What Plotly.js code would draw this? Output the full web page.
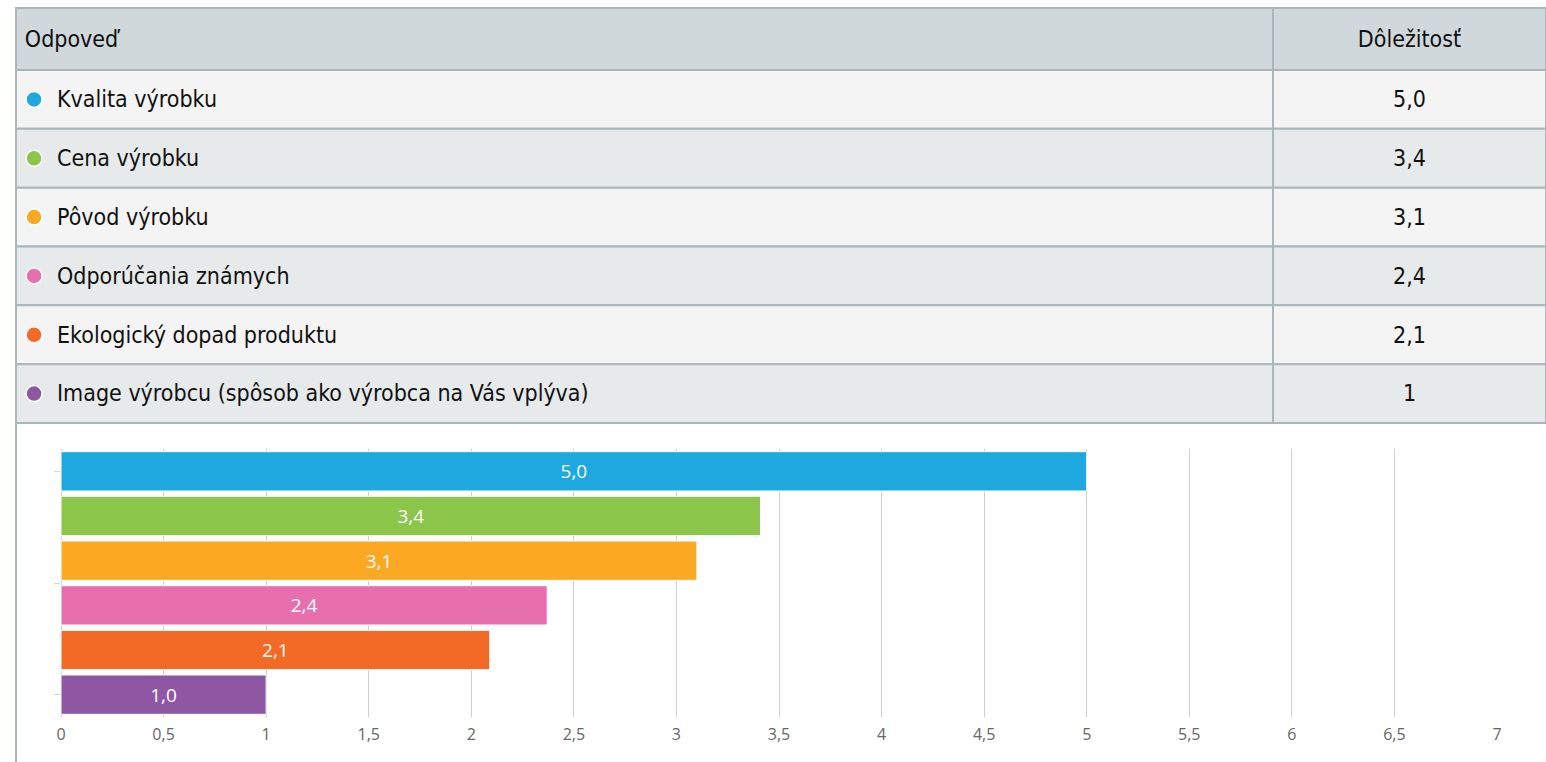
<!DOCTYPE html>
<html>
<head>
<meta charset="utf-8">
<script src="https://cdn.plot.ly/plotly-3.0.1.min.js"></script>
<style>html,body{margin:0;padding:0;background:#fff;}#chart{width:1546px;height:762px;}</style>
</head>
<body>
<div id="chart"></div>
<script>
const categories = ["Kvalita výrobku", "Cena výrobku", "Pôvod výrobku", "Odporúčania známych", "Ekologický dopad produktu", "Image výrobcu (spôsob ako výrobca na Vás vplýva)"];
const values = [5.0, 3.41, 3.1, 2.37, 2.09, 1.0];
const barLabels = ["5,0", "3,4", "3,1", "2,4", "2,1", "1,0"];
const tableValues = ["5,0", "3,4", "3,1", "2,4", "2,1", "1"];
const colors = ["#1fa8e0", "#8bc54a", "#fba823", "#e76fad", "#f26a25", "#8f57a3"];
const headers = ["Odpoveď", "Dôležitosť"];

const W = 1546, H = 762;
const px = x => x / W;
const py = y => 1 - y / H;

/* ---- table drawn on its own axes (x2 / y2) ---- */
const ROW_PX = 58.8, HDR = 62 / ROW_PX, PAD = 1 / ROW_PX;
const COL1 = 1257 / 1530;             // share of first column
const TXT_SHIFT = 2 / ROW_PX;         // small downward nudge of text
const n = categories.length;
const rowIdx = categories.map((_, i) => i + 0.5);
const textIdx = rowIdx.map(v => v + TXT_SHIFT);
const rowFills = categories.map((_, i) => i % 2 === 0 ? "#f4f4f4" : "#e7eaeb");
const tableFont = "DejaVu Sans Condensed, Liberation Sans Narrow, sans-serif";
const BORDER = {color: "#a9b6bb", width: 2};

const tableCol1 = {
  type: "bar", orientation: "h", xaxis: "x2", yaxis: "y2",
  y: [-HDR / 2].concat(rowIdx),
  x: [COL1].concat(categories.map(() => COL1)),
  base: 0,
  width: [HDR].concat(categories.map(() => 1)),
  marker: {color: ["#d0d8db"].concat(rowFills), line: BORDER},
  hoverinfo: "skip", textposition: "none"
};
const tableCol2 = {
  type: "bar", orientation: "h", xaxis: "x2", yaxis: "y2",
  y: [-HDR / 2].concat(rowIdx),
  x: [1 - COL1].concat(categories.map(() => 1 - COL1)),
  base: COL1,
  width: [HDR].concat(categories.map(() => 1)),
  marker: {color: ["#d0d8db"].concat(rowFills), line: BORDER},
  hoverinfo: "skip", textposition: "none"
};
const headerText = {
  type: "scatter", mode: "text", xaxis: "x2", yaxis: "y2",
  x: [0.0058, COL1 + (1 - COL1) / 2], y: [-HDR / 2 + TXT_SHIFT, -HDR / 2 + TXT_SHIFT],
  text: headers, textposition: ["middle right", "middle center"],
  textfont: {family: tableFont, size: 23, color: "#111111"},
  cliponaxis: false, hoverinfo: "skip"
};
const dots = {
  type: "scatter", mode: "markers", xaxis: "x2", yaxis: "y2",
  x: categories.map(() => 0.0118), y: rowIdx,
  marker: {size: 16, color: colors, line: {color: "#ffffff", width: 1.5}},
  cliponaxis: false, hoverinfo: "skip"
};
const nameText = {
  type: "scatter", mode: "text", xaxis: "x2", yaxis: "y2",
  x: categories.map(() => 0.0268), y: textIdx,
  text: categories, textposition: "middle right",
  textfont: {family: tableFont, size: 23, color: "#111111"},
  cliponaxis: false, hoverinfo: "skip"
};
const valueText = {
  type: "scatter", mode: "text", xaxis: "x2", yaxis: "y2",
  x: categories.map(() => COL1 + (1 - COL1) / 2), y: textIdx,
  text: tableValues, textposition: "middle center",
  textfont: {family: tableFont, size: 23, color: "#111111"},
  cliponaxis: false, hoverinfo: "skip"
};

/* ---- bar chart ---- */
const bars = {
  type: "bar",
  orientation: "h",
  y: categories,
  x: values,
  text: barLabels,
  textposition: "inside",
  insidetextanchor: "middle",
  textfont: {family: "Open Sans, DejaVu Sans, sans-serif", size: 19, color: "#ffffff"},
  marker: {color: colors, line: {color: "#ffffff", width: 1}},
  hoverinfo: "skip",
  xaxis: "x",
  yaxis: "y"
};

const layout = {
  width: W, height: H,
  margin: {l: 0, r: 0, t: 0, b: 0},
  paper_bgcolor: "#ffffff",
  plot_bgcolor: "rgba(0,0,0,0)",
  separators: ", ",
  showlegend: false,
  barmode: "overlay",
  bargap: 0.12,
  xaxis: {
    domain: [px(61), px(1497)],
    range: [0, 7],
    dtick: 0.5,
    tick0: 0,
    showgrid: true,
    gridcolor: "#cfcfcf",
    gridwidth: 1,
    zeroline: true,
    zerolinecolor: "#ccd6eb",
    zerolinewidth: 1,
    showline: false,
    ticks: "",
    ticklabelstandoff: 6,
    tickfont: {family: "Open Sans, DejaVu Sans, sans-serif", size: 16, color: "#666666"},
    fixedrange: true
  },
  yaxis: {
    domain: [py(717), py(449)],
    autorange: "reversed",
    type: "category",
    showticklabels: false,
    showgrid: false,
    zeroline: false,
    ticks: "outside",
    ticklen: 6,
    tickcolor: "#ccd6eb",
    tickmode: "array",
    tickvals: [0, 2.5, 5],
    ticktext: ["", "", ""],
    fixedrange: true
  },
  xaxis2: {
    domain: [px(15), 1],
    range: [-1 / 1530, 1],
    visible: false, fixedrange: true
  },
  yaxis2: {
    domain: [py(424), py(7)],
    range: [n + PAD, -HDR - PAD],
    visible: false, fixedrange: true
  },
  shapes: [
    {type: "line", xref: "paper", yref: "paper", x0: px(16), x1: px(16), y0: py(423), y1: 0,
     line: {color: "#a9b6bb", width: 2}}
  ]
};

Plotly.newPlot("chart", [tableCol1, tableCol2, headerText, dots, nameText, valueText, bars], layout,
  {displayModeBar: false, staticPlot: true});
</script>
</body>
</html>
